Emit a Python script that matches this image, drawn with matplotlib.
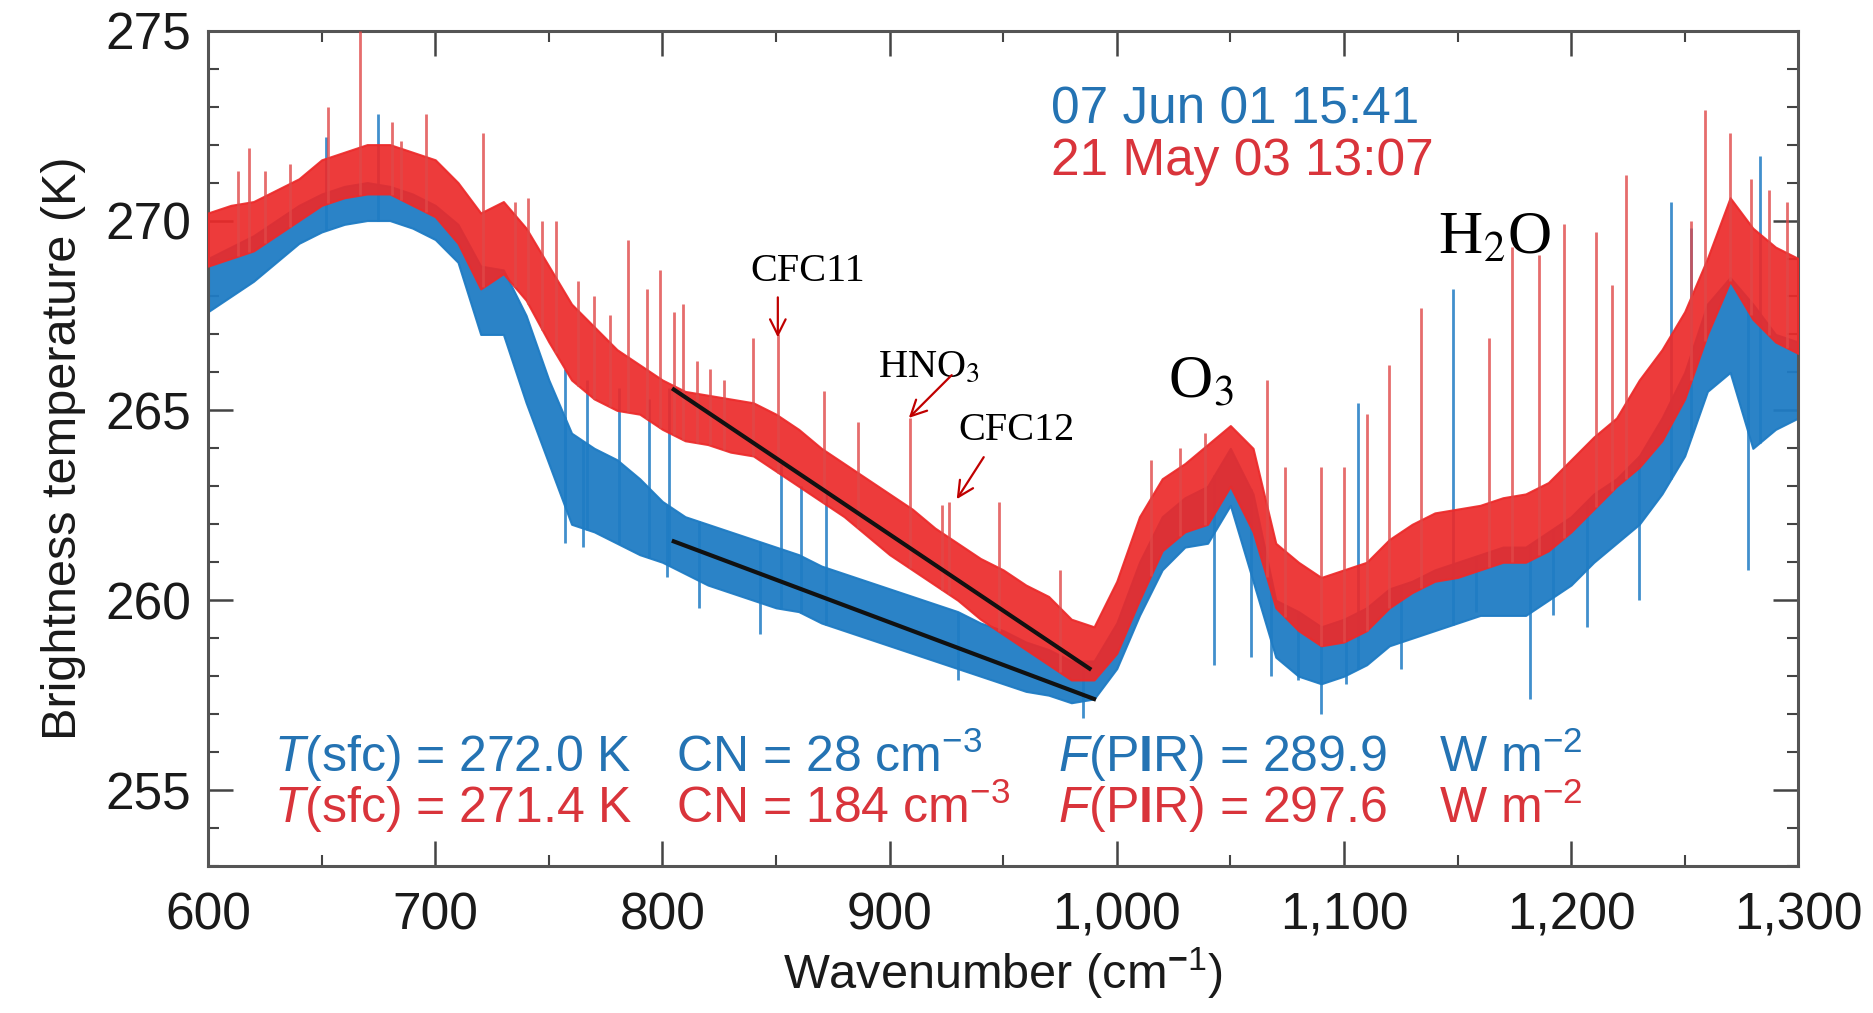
import numpy as np
import matplotlib
matplotlib.use("Agg")
import matplotlib.pyplot as plt
from matplotlib.ticker import MultipleLocator, FuncFormatter

plt.rcParams["font.family"] = ["Liberation Sans", "DejaVu Sans"]
plt.rcParams["mathtext.fontset"] = "custom"
plt.rcParams["mathtext.rm"] = "Liberation Sans"
plt.rcParams["mathtext.it"] = "Liberation Sans:italic"
plt.rcParams["mathtext.bf"] = "Liberation Sans:bold"

# wavenumber grid (cm-1) and envelopes of the two spectra
wn = np.arange(600, 1301, 10)

red_hi = [270.2, 270.4, 270.5, 270.8, 271.1, 271.6, 271.8, 272.0, 272.0, 271.8,
          271.6, 271.0, 270.2, 270.5, 269.8, 268.8, 267.8, 267.2, 266.6, 266.2,
          265.8, 265.5, 265.4, 265.3, 265.2, 264.9, 264.5, 264.0, 263.6, 263.2,
          262.8, 262.4, 261.9, 261.5, 261.1, 260.8, 260.4, 260.1, 259.5, 259.3,
          260.5, 262.2, 263.2, 263.6, 264.1, 264.6, 264.0, 261.5, 261.0, 260.6,
          260.8, 261.0, 261.6, 262.0, 262.3, 262.4, 262.5, 262.7, 262.8, 263.1,
          263.7, 264.3, 264.8, 265.8, 266.6, 267.6, 269.0, 270.6, 269.8, 269.3,
          269.0]
red_lo = [268.8, 269.0, 269.2, 269.6, 270.0, 270.4, 270.6, 270.7, 270.7, 270.4,
          270.1, 269.4, 268.2, 268.6, 267.9, 266.8, 265.8, 265.3, 265.0, 264.9,
          264.5, 264.2, 264.1, 263.9, 263.8, 263.4, 263.0, 262.6, 262.2, 261.7,
          261.2, 260.8, 260.4, 260.0, 259.5, 259.1, 258.7, 258.3, 257.9, 257.9,
          258.6, 260.0, 261.3, 261.8, 262.0, 263.0, 261.8, 259.8, 259.2, 258.8,
          258.9, 259.2, 259.8, 260.2, 260.5, 260.6, 260.8, 261.0, 261.0, 261.3,
          261.8, 262.4, 263.0, 263.5, 264.2, 265.3, 267.0, 268.4, 267.4, 266.8,
          266.5]
blue_hi = [269.0, 269.3, 269.6, 270.0, 270.4, 270.7, 270.9, 271.0, 270.9, 270.7,
           270.4, 269.9, 268.8, 268.7, 267.5, 265.8, 264.4, 264.0, 263.7, 263.2,
           262.6, 262.2, 262.0, 261.8, 261.6, 261.4, 261.2, 260.9, 260.7, 260.5,
           260.3, 260.1, 259.9, 259.7, 259.4, 259.2, 258.9, 258.7, 258.4, 258.4,
           259.4, 261.0, 262.2, 262.7, 263.0, 264.0, 262.8, 260.0, 259.7, 259.3,
           259.5, 259.8, 260.3, 260.5, 260.8, 261.0, 261.2, 261.4, 261.4, 261.8,
           262.2, 262.8, 263.2, 263.8, 264.8, 266.0, 267.8, 268.5, 267.8, 267.0,
           266.8]
blue_lo = [267.6, 268.0, 268.4, 268.9, 269.4, 269.7, 269.9, 270.0, 270.0, 269.8,
           269.5, 268.9, 267.0, 267.0, 265.2, 263.6, 262.0, 261.8, 261.5, 261.2,
           261.0, 260.7, 260.4, 260.2, 260.0, 259.8, 259.7, 259.4, 259.2, 259.0,
           258.8, 258.6, 258.4, 258.2, 258.0, 257.8, 257.6, 257.5, 257.3, 257.4,
           258.2, 259.6, 260.8, 261.4, 261.5, 262.5, 260.5, 258.5, 258.0, 257.8,
           258.0, 258.3, 258.8, 259.0, 259.2, 259.4, 259.6, 259.6, 259.6, 260.0,
           260.4, 261.0, 261.5, 262.0, 262.8, 263.8, 265.5, 266.0, 264.0, 264.5,
           264.8]

# emission lines sticking out of the bands
red_spike_x = [613, 618, 625, 636, 653, 667, 681, 685, 696, 721, 735, 741, 747, 753,
               763, 770, 777, 785, 793, 799, 805, 809, 815, 821, 827, 840, 851, 871,
               886, 909, 923, 926, 948, 975, 1015, 1028, 1039, 1066, 1074, 1090, 1100,
               1110, 1120, 1134, 1164, 1174, 1186, 1197, 1211, 1218, 1224, 1253, 1259,
               1270, 1279, 1287, 1295]
red_spike_top = [271.3, 271.9, 271.3, 271.5, 273.0, 275.0, 272.6, 272.1, 272.8, 272.3,
                 270.5, 270.6, 270.0, 270.0, 268.4, 268.0, 267.5, 269.5, 268.2, 268.7,
                 267.6, 267.8, 266.3, 266.1, 265.8, 266.9, 267.0, 265.5, 264.7, 264.8,
                 262.5, 262.6, 262.6, 260.8, 263.7, 264.0, 264.4, 265.8, 263.5, 263.5,
                 263.5, 264.9, 266.2, 267.7, 266.9, 269.3, 269.1, 269.9, 269.7, 268.3,
                 271.2, 270.0, 272.9, 272.3, 271.1, 270.8, 270.5]
blue_up_x = [652, 675, 757, 767, 781, 794, 803, 852, 861, 872, 1106, 1148, 1244, 1253, 1283]
blue_up_top = [272.2, 272.8, 266.1, 265.8, 265.6, 265.3, 265.6, 263.6, 263.0, 262.8,
               265.2, 268.2, 270.5, 269.8, 271.7]
blue_dn_x = [757, 765, 802, 816, 843, 930, 985, 1043, 1059, 1068, 1080, 1090, 1101,
             1125, 1158, 1182, 1192, 1207, 1230, 1278]
blue_dn_bot = [261.5, 261.4, 260.6, 259.8, 259.1, 257.9, 256.9, 258.3, 258.5, 258.0,
               257.9, 257.0, 257.8, 258.2, 259.7, 257.4, 259.6, 259.3, 260.0, 260.8]

# straight black guide lines (x, y end points)
upper_fit_x = [805, 988]
upper_fit_y = [265.55, 258.2]
lower_fit_x = [805, 990]
lower_fit_y = [261.55, 257.4]

BLUE = "#1f7cc4"
RED = "#ec2a2a"
BLUE_TXT = "#2473b3"
RED_TXT = "#d9343b"
ARROW = "#c00000"

fig = plt.figure(figsize=(18.73, 10.13), dpi=100)
ax = fig.add_axes([0.1111, 0.1451, 0.849, 0.8246])

# blue spectrum
ax.fill_between(wn, blue_lo, blue_hi, color=BLUE, lw=1.5, alpha=0.95, zorder=2)
ax.vlines(blue_up_x, np.interp(blue_up_x, wn, blue_lo), blue_up_top,
          color=BLUE, lw=2, alpha=0.85, zorder=2)
ax.vlines(blue_dn_x, blue_dn_bot, np.interp(blue_dn_x, wn, blue_hi),
          color=BLUE, lw=2, alpha=0.85, zorder=2)

# red spectrum on top
ax.fill_between(wn, red_lo, red_hi, color=RED, lw=1.5, alpha=0.92, zorder=3)
ax.vlines(red_spike_x, np.interp(red_spike_x, wn, red_lo), red_spike_top,
          color="#e04848", lw=2, alpha=0.8, zorder=3)

ax.plot(upper_fit_x, upper_fit_y, color="#111111", lw=3, zorder=4)
ax.plot(lower_fit_x, lower_fit_y, color="#111111", lw=3, zorder=4)

ax.set_xlim(600, 1300)
ax.set_ylim(253, 275)
ax.xaxis.set_major_locator(MultipleLocator(100))
ax.xaxis.set_minor_locator(MultipleLocator(50))
ax.yaxis.set_major_locator(MultipleLocator(5))
ax.yaxis.set_minor_locator(MultipleLocator(1))
ax.xaxis.set_major_formatter(FuncFormatter(lambda v, p: f"{v:,.0f}"))
ax.tick_params(which="both", direction="in", top=True, right=True,
               colors="#444444", labelcolor="#1a1a1a")
ax.tick_params(which="major", length=18, width=1.8, labelsize=37)
ax.tick_params(axis="x", which="major", pad=18)
ax.tick_params(axis="y", which="major", pad=12)
ax.tick_params(which="minor", length=8, width=1.5)
for s in ax.spines.values():
    s.set_color("#555555")
    s.set_linewidth(2.2)

ax.set_xlabel("Wavenumber (cm$^{\\mathbf{-}1}$)", fontsize=35, color="#1a1a1a", labelpad=4)
ax.set_ylabel("Brightness temperature (K)", fontsize=35, color="#1a1a1a", labelpad=14)

# date legend
ax.text(971, 272.9, "07 Jun 01 15:41", color=BLUE_TXT, fontsize=37, va="center")
ax.text(971, 271.55, "21 May 03 13:07", color=RED_TXT, fontsize=37, va="center")

# surface temperature, CN and pyrgeometer flux
rows = [(255.85, BLUE_TXT, "272.0", "28", "289.9"),
        (254.5, RED_TXT, "271.4", "184", "297.6")]
for y, c, tsfc, cn, fpir in rows:
    ax.text(629, y, "$T$(sfc) = " + tsfc + " K", color=c, fontsize=36, va="center")
    ax.text(806, y, "CN = " + cn + " cm$^{-3}$", color=c, fontsize=36, va="center")
    ax.text(974, y, "$F$(P$\\mathbf{I}$R) = " + fpir, color=c, fontsize=36, va="center")
    ax.text(1142, y, "W m$^{-2}$", color=c, fontsize=36, va="center")

# species labels
serif = dict(fontfamily="Liberation Serif", math_fontfamily="stix", color="black")
ax.text(838.5, 268.4, "CFC11", fontsize=29, va="baseline", **serif)
ax.text(895, 265.9, "HNO$_3$", fontsize=29, va="baseline", **serif)
ax.text(930.4, 264.22, "CFC12", fontsize=29, va="baseline", **serif)
ax.text(1022.5, 265.35, "O$_3$", fontsize=44, va="baseline", **serif)
ax.text(1141.5, 269.12, "H$_2$O", fontsize=44, va="baseline", **serif)

arrow = dict(arrowstyle="->", color=ARROW, lw=1.6, mutation_scale=28)
ax.annotate("", xy=(850.8, 266.85), xytext=(850.8, 268.05), arrowprops=arrow)
ax.annotate("", xy=(907.6, 264.75), xytext=(928.2, 265.98), arrowprops=arrow)
ax.annotate("", xy=(928.9, 262.6), xytext=(942.1, 263.83), arrowprops=arrow)

fig.savefig("out.png", dpi=100)
